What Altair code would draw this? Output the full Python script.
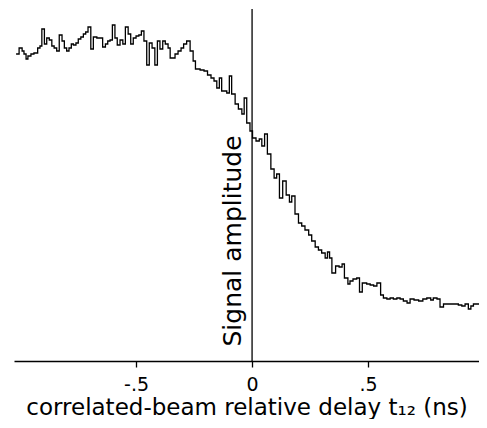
import altair as alt
import pandas as pd

# delay t12 (ns) at the start of each histogram step
delay = [
    -1.017, -1.004, -0.991, -0.983, -0.974, -0.966, -0.953, -0.940, -0.924, -0.914,
    -0.906, -0.895, -0.885, -0.874, -0.863, -0.853, -0.842, -0.831, -0.819, -0.809,
    -0.799, -0.789, -0.779, -0.770, -0.759, -0.749, -0.738, -0.727, -0.717, -0.707,
    -0.695, -0.684, -0.669, -0.655, -0.644, -0.632, -0.622, -0.612, -0.602, -0.591,
    -0.581, -0.569, -0.557, -0.546, -0.534, -0.523, -0.512, -0.500, -0.488, -0.477,
    -0.466, -0.454, -0.443, -0.431, -0.419, -0.408, -0.397, -0.385, -0.374, -0.362,
    -0.353, -0.332, -0.319, -0.306, -0.295, -0.282, -0.267, -0.254, -0.244, -0.224,
    -0.207, -0.192, -0.177, -0.164, -0.152, -0.141, -0.131, -0.109, -0.098, -0.088,
    -0.073, -0.059, -0.044, -0.034, -0.023, -0.009, 0.002, 0.017, 0.031, 0.042,
    0.054, 0.066, 0.081, 0.095, 0.106, 0.118, 0.132, 0.147, 0.161, 0.171,
    0.185, 0.200, 0.214, 0.228, 0.244, 0.257, 0.272, 0.286, 0.300, 0.315,
    0.325, 0.334, 0.344, 0.360, 0.375, 0.388, 0.398, 0.413, 0.422, 0.435,
    0.451, 0.463, 0.475, 0.494, 0.509, 0.524, 0.538, 0.554, 0.566, 0.581,
    0.595, 0.609, 0.624, 0.638, 0.652, 0.668, 0.681, 0.698, 0.718, 0.736,
    0.753, 0.770, 0.781, 0.797, 0.810, 0.825, 0.839, 0.858, 0.875, 0.889,
    0.904, 0.918, 0.932, 0.943, 0.954, 0.969, 0.987,
]

# signal amplitude (arbitrary units)
amplitude = [
    309, 315, 312, 309, 304, 307, 309, 310, 315, 317,
    334, 319, 325, 323, 317, 315, 312, 328, 322, 315,
    312, 315, 319, 318, 320, 324, 326, 329, 331, 336,
    314, 326, 325, 325, 316, 319, 322, 323, 338, 325,
    318, 323, 319, 336, 329, 319, 325, 327, 328, 332,
    322, 298, 320, 315, 298, 322, 314, 322, 319, 315,
    305, 309, 312, 315, 319, 322, 312, 302, 294, 293,
    292, 288, 285, 282, 275, 285, 272, 270, 287, 269,
    259, 254, 249, 265, 240, 232, 225, 222, 224, 217,
    229, 209, 194, 185, 189, 165, 182, 168, 161, 167,
    149, 140, 137, 133, 128, 122, 116, 113, 110, 105,
    111, 105, 90, 97, 96, 99, 85, 79, 82, 84,
    85, 71, 80, 79, 78, 77, 80, 68, 65, 64,
    65, 64, 65, 64, 62, 60, 64, 63, 62, 64,
    65, 63, 65, 64, 56, 59, 59, 59, 59, 58,
    57, 59, 54, 57, 59, 59, 59,
]

x_ticks = [-0.5, 0, 0.5]

df = pd.DataFrame({"t": delay, "s": amplitude})

FONT = "DejaVu Sans"

x_scale = alt.Scale(domain=[-1.026, 0.978], nice=False, zero=False)
y_scale = alt.Scale(domain=[2, 354], nice=False, zero=False)

line = alt.Chart(df).mark_line(
    interpolate="step-after", color="black", strokeWidth=1.3, clip=True
).encode(
    x=alt.X(
        "t:Q",
        scale=x_scale,
        axis=alt.Axis(
            values=x_ticks,
            labelExpr="datum.value < 0 ? '-.5' : (datum.value > 0 ? '.5' : '0')",
            grid=False,
            domainColor="black",
            domainWidth=1.3,
            tickColor="black",
            tickWidth=1.3,
            tickSize=6,
            labelFont=FONT,
            labelFontSize=19,
            labelColor="black",
            labelPadding=8,
            title="correlated-beam relative delay t₁₂ (ns)",
            titleFont=FONT,
            titleFontSize=23,
            titleFontWeight="normal",
            titleColor="black",
            titlePadding=2,
        ),
    ),
    y=alt.Y("s:Q", scale=y_scale, axis=None),
)

rule = alt.Chart(pd.DataFrame({"t": [0]})).mark_rule(
    color="black", strokeWidth=1.3
).encode(x=alt.X("t:Q", scale=x_scale))

label = alt.Chart(pd.DataFrame({"t": [-0.047], "s": [122], "txt": ["Signal amplitude"]})).mark_text(
    angle=270, align="center", baseline="alphabetic", font=FONT, fontSize=25, color="black"
).encode(
    x=alt.X("t:Q", scale=x_scale),
    y=alt.Y("s:Q", scale=y_scale),
    text="txt:N",
)

chart = alt.layer(line, rule, label).properties(
    width=465,
    height=352,
    padding={"left": 6, "top": 0, "right": 0, "bottom": 0},
    background="white",
).configure_view(stroke=None)

chart.save("out.html", embed_options={"renderer": "svg", "actions": False})
